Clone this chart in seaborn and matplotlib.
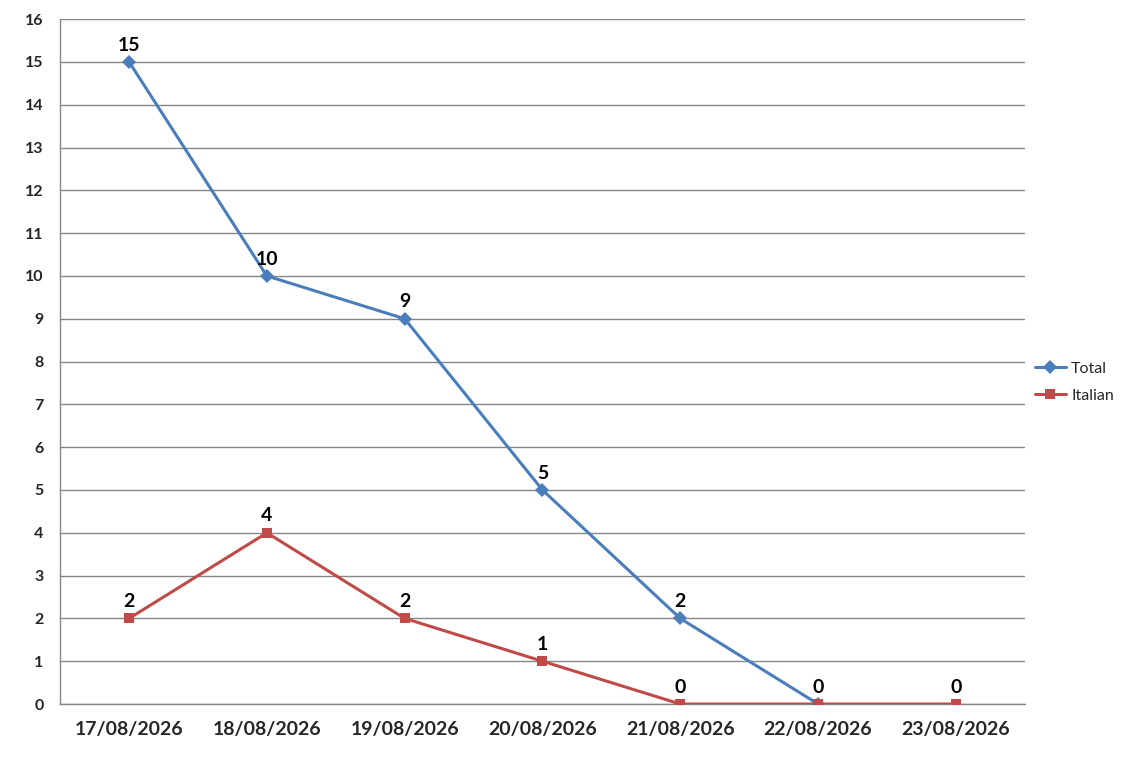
import matplotlib
matplotlib.use("Agg")
import matplotlib.pyplot as plt
import seaborn as sns
import pandas as pd
import numpy as np

dates = ["17/08/2026", "18/08/2026", "19/08/2026", "20/08/2026",
         "21/08/2026", "22/08/2026", "23/08/2026"]
total = [15, 10, 9, 5, 2, 0, np.nan]
italian = [2, 4, 2, 1, 0, 0, 0]
y_ticks = list(range(0, 17))

sns.set_theme(style="white")
plt.rcParams['font.family'] = ['Lato', 'DejaVu Sans']

df = pd.DataFrame({
    "date": dates * 2,
    "value": total + italian,
    "series": ["Total"] * len(dates) + ["Italian"] * len(dates),
})
df = df.dropna()
df["pos"] = df["date"].map({d: i for i, d in enumerate(dates)})

fig = plt.figure(figsize=(11.36, 7.64), dpi=100)
ax = fig.add_axes([0.053, 0.0785, 0.849, 0.8965])

colors = {"Total": "#4A7EBB", "Italian": "#BE4B48"}
sns.lineplot(data=df, x="pos", y="value", hue="series", style="series",
             hue_order=["Total", "Italian"], style_order=["Total", "Italian"],
             palette=colors, markers={"Total": "D", "Italian": "s"},
             dashes=False, linewidth=2.2, markersize=7.5, markeredgewidth=0,
             ax=ax, legend=True, zorder=3)

seen = set()
for s, vals in (("Italian", italian), ("Total", total)):
    for i, v in enumerate(vals):
        if v is None or (isinstance(v, float) and np.isnan(v)):
            continue
        if (i, v) in seen:
            continue
        seen.add((i, v))
        ax.annotate(f"{int(v)}", (i, v), xytext=(0, 6), textcoords="offset points",
                    ha="center", va="bottom", fontsize=14, fontweight="bold",
                    color="black", zorder=5)

ax.set_xlim(-0.5, len(dates) - 0.5)
ax.set_ylim(0, 16)
ax.set_yticks(y_ticks)
ax.set_yticklabels([str(t) for t in y_ticks], fontsize=11.5, fontweight="bold")
ax.set_xticks(range(len(dates)))
ax.set_xticklabels(dates, fontsize=14, fontweight="bold")
ax.set_xticks(np.arange(-0.5, len(dates), 1.0), minor=True)
ax.tick_params(axis="x", which="major", length=0, pad=12)
ax.tick_params(axis="x", which="minor", length=6, color="#868686", width=1, direction="out")
ax.tick_params(axis="y", which="major", length=6, color="#868686", width=1, direction="out", pad=6)
ax.yaxis.grid(True, color="#868686", linewidth=1)
ax.xaxis.grid(False)
ax.set_axisbelow(True)
for side in ("top", "right"):
    ax.spines[side].set_visible(False)
for side in ("left", "bottom"):
    ax.spines[side].set_color("#868686")
    ax.spines[side].set_linewidth(1)
ax.set_xlabel("")
ax.set_ylabel("")

handles, labels = ax.get_legend_handles_labels()
ax.legend(handles, labels, loc="center left", bbox_to_anchor=(0.898, 0.5),
          bbox_transform=fig.transFigure, frameon=False, fontsize=11.5,
          handlelength=2.0, handletextpad=0.3, labelspacing=0.8)

fig.savefig("out.png", dpi=100)
